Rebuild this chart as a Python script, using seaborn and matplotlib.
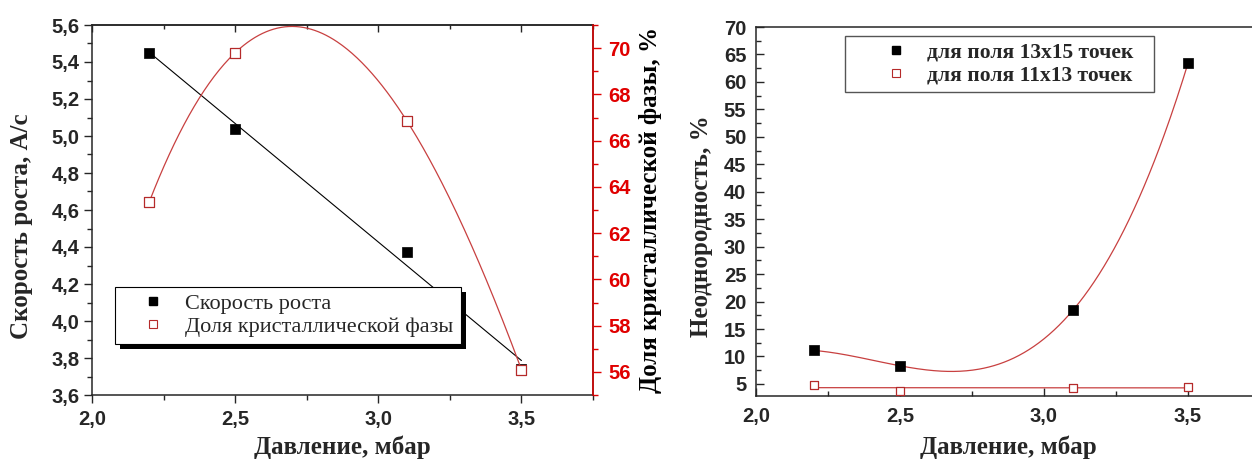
import numpy as np
import pandas as pd
import matplotlib
matplotlib.use("Agg")
import matplotlib.pyplot as plt
import matplotlib.patheffects as pe
from matplotlib.lines import Line2D
from matplotlib.ticker import MultipleLocator, FuncFormatter
import seaborn as sns

# values
pressure = [2.2, 2.5, 3.1, 3.5]
growth_rate = [5.45, 5.04, 4.375, 3.74]          # А/с, left axis
cryst_fraction = [63.35, 69.8, 66.85, 56.1]      # %, right (red) axis
nonuni_13x15 = [11.1, 8.3, 18.4, 63.4]           # %
nonuni_11x13 = [4.8, 3.7, 4.25, 4.45]            # %

x_label = "Давление, мбар"
y_label_rate = "Скорость роста, А/с"
y_label_cryst = "Доля кристаллической фазы, %"
y_label_nonuni = "Неоднородность, %"
legend_left = ["Скорость роста", "Доля кристаллической фазы"]
legend_right = ["для поля 13x15 точек", "для поля 11x13 точек"]

RED_LINE = "#c84040"
RED_MARK = "#b52a2a"
RED_AXIS = "#e00000"
SERIF = ["Liberation Serif", "DejaVu Serif"]


def fit_curve(x, y, deg):
    coef = np.polyfit(x, y, deg)
    xs = np.linspace(min(x), max(x), 300)
    return pd.DataFrame({"x": xs, "y": np.polyval(coef, xs)})


def comma(fmt):
    return FuncFormatter(lambda v, p: format(v, fmt).replace(".", ","))


sns.set_style("ticks")
plt.rcParams["font.family"] = ["Liberation Sans", "DejaVu Sans"]
plt.rcParams["font.weight"] = "bold"
plt.rcParams["axes.linewidth"] = 1.1

fig = plt.figure(figsize=(12.52, 4.61), dpi=100)
W, H = 1252, 461
ax = fig.add_axes([92 / W, 1 - 395 / H, 501 / W, 370 / H])
ax2 = ax.twinx()
bx = fig.add_axes([756 / W, 1 - 396 / H, 504 / W, 369 / H])

lab_font = dict(family=SERIF, weight="bold", size=18)

# ---- left chart ----
sns.lineplot(data=fit_curve(pressure, growth_rate, 1), x="x", y="y", ax=ax,
             color="black", lw=0.8)
sns.scatterplot(x=pressure, y=growth_rate, ax=ax, marker="s", s=42,
                color="black", edgecolor="black", linewidth=0.5, zorder=3)
sns.lineplot(data=fit_curve(pressure, cryst_fraction, 3), x="x", y="y", ax=ax2,
             color=RED_LINE, lw=0.9)
sns.scatterplot(x=pressure, y=cryst_fraction, ax=ax2, marker="s", s=48,
                color="white", edgecolor=RED_MARK, linewidth=0.9, zorder=3)

ax.set_xlim(2.0, 3.75)
ax.set_ylim(3.6, 5.6)
ax2.set_ylim(55, 71)
ax.xaxis.set_major_locator(MultipleLocator(0.5))
ax.xaxis.set_minor_locator(MultipleLocator(0.25))
ax.yaxis.set_major_locator(MultipleLocator(0.2))
ax.yaxis.set_minor_locator(MultipleLocator(0.1))
ax.xaxis.set_major_formatter(comma(".1f"))
ax.yaxis.set_major_formatter(comma(".1f"))
ax.tick_params(which="both", direction="out", labelsize=14.5, width=1, right=False)
ax.tick_params(which="major", length=6)
ax.tick_params(which="minor", length=3.5)
ax.tick_params(axis="y", pad=3)
ax.tick_params(axis="x", pad=5)

top = ax.secondary_xaxis("top")
top.xaxis.set_major_locator(MultipleLocator(0.5))
top.xaxis.set_minor_locator(MultipleLocator(0.25))
top.tick_params(which="both", direction="in", labeltop=False, width=1)
top.tick_params(which="major", length=5)
top.tick_params(which="minor", length=3)

ax2.yaxis.set_major_locator(MultipleLocator(2))
ax2.yaxis.set_minor_locator(MultipleLocator(1))
ax2.tick_params(which="both", direction="out", colors=RED_AXIS, labelsize=14.5,
                width=1, pad=5)
ax2.tick_params(which="major", length=6)
ax2.tick_params(which="minor", length=3.5)
for s in ["left", "top", "bottom"]:
    ax2.spines[s].set_visible(False)
ax2.spines["right"].set_color(RED_AXIS)

ax.set_xlabel(x_label, fontdict=lab_font, va="center")
ax.xaxis.set_label_coords(0.5, -0.14)
ax.set_ylabel(y_label_rate, fontdict=lab_font, va="center", rotation_mode="default")
ax.yaxis.set_label_coords(-0.14, 0.455)
ax2.set_ylabel(y_label_cryst, fontdict=lab_font, color="black", rotation=90,
               va="center", rotation_mode="default")
ax2.yaxis.set_label_coords(1.114, 0.5)

h_left = [Line2D([], [], ls="none", marker="s", ms=6, color="black"),
          Line2D([], [], ls="none", marker="s", ms=6, mfc="white",
                 mec=RED_MARK, mew=0.8)]
leg = ax2.legend(h_left, legend_left, loc="upper left", mode="expand",
                 bbox_to_anchor=(115 / W, 1 - 344 / H, 346 / W, 57 / H),
                 bbox_transform=fig.transFigure,
                 borderaxespad=0, fancybox=False, framealpha=1, edgecolor="black",
                 prop=dict(family=SERIF, weight="normal", size=16),
                 borderpad=0.3, labelspacing=0.1, handlelength=2.82, handletextpad=0.03)
leg.get_frame().set_linewidth(0.8)
leg.get_frame().set_path_effects([
    pe.SimplePatchShadow(offset=(3.5, -3.5), shadow_rgbFace="black", alpha=1.0),
    pe.Normal()])

# ---- right chart ----
sns.lineplot(data=fit_curve(pressure, nonuni_13x15, 3), x="x", y="y", ax=bx,
             color=RED_LINE, lw=0.9)
sns.lineplot(data=fit_curve(pressure, nonuni_11x13, 1), x="x", y="y", ax=bx,
             color=RED_LINE, lw=0.9)
sns.scatterplot(x=pressure, y=nonuni_13x15, ax=bx, marker="s", s=42,
                color="black", edgecolor="black", linewidth=0.5, zorder=3)
sns.scatterplot(x=pressure, y=nonuni_11x13, ax=bx, marker="s", s=40,
                color="white", edgecolor=RED_MARK, linewidth=0.9, zorder=3)

bx.set_xlim(2.0, 3.75)
bx.set_ylim(2.8, 70)
bx.xaxis.set_major_locator(MultipleLocator(0.5))
bx.xaxis.set_minor_locator(MultipleLocator(0.25))
bx.yaxis.set_major_locator(MultipleLocator(5))
bx.yaxis.set_minor_locator(MultipleLocator(2.5))
bx.xaxis.set_major_formatter(comma(".1f"))
bx.yaxis.set_major_formatter(comma(".0f"))
bx.tick_params(which="both", direction="in", labelsize=14.5, width=1)
bx.tick_params(which="major", length=6)
bx.tick_params(which="minor", length=3.5)
bx.tick_params(axis="y", pad=7)
bx.tick_params(axis="x", pad=8)
bx.spines["right"].set_visible(False)

bx.set_xlabel(x_label, fontdict=lab_font, va="center")
bx.xaxis.set_label_coords(0.5, -0.14)
bx.set_ylabel(y_label_nonuni, fontdict=lab_font, va="center", rotation_mode="default")
bx.yaxis.set_label_coords(-0.108, 0.46)

h_right = [Line2D([], [], ls="none", marker="s", ms=6, color="black"),
           Line2D([], [], ls="none", marker="s", ms=6, mfc="white",
                  mec=RED_MARK, mew=0.8)]
leg2 = bx.legend(h_right, legend_right, loc="upper left", mode="expand",
                 bbox_to_anchor=(845 / W, 1 - 93 / H, 309 / W, 57 / H),
                 bbox_transform=fig.transFigure,
                 borderaxespad=0, fancybox=False, framealpha=1, edgecolor="#555555",
                 prop=dict(family=SERIF, weight="bold", size=15.5),
                 borderpad=0.3, labelspacing=0.15, handlelength=4.14, handletextpad=-0.63)
leg2.get_frame().set_linewidth(1.0)

fig.savefig("out.png", dpi=100)
